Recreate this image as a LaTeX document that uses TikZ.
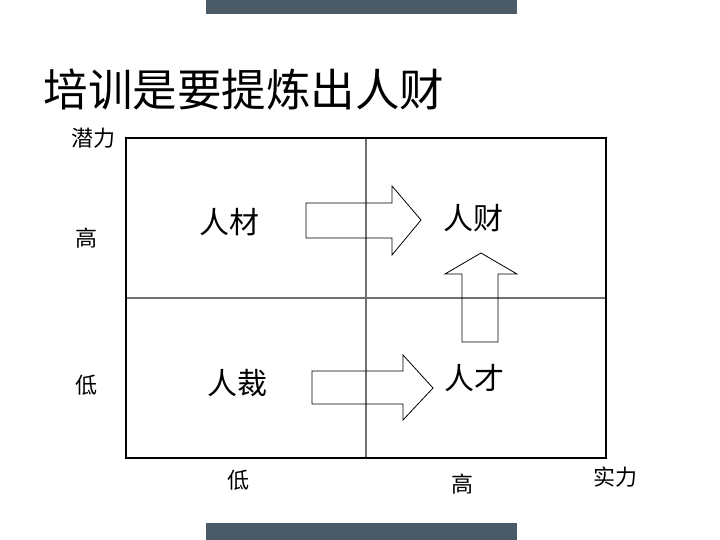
\documentclass[tikz,border=0pt]{standalone}
\usepackage{fontspec}
\newfontfamily\cjk{Noto Sans CJK SC}
\definecolor{barcol}{HTML}{4A5A66}
\definecolor{axiscol}{HTML}{707070}
\tikzset{
  quad/.style={font=\cjk\fontsize{30}{30}\selectfont},
  tick/.style={font=\cjk\fontsize{22}{22}\selectfont},
  blockarrow/.style={draw=black, line width=0.8pt, line join=miter}
}
\begin{document}
\begin{tikzpicture}[x=1pt, y=-1pt]
  \useasboundingbox (0,0) rectangle (720,540);

  % Dark bars at top and bottom
  \fill[barcol] (206,0) rectangle (517,14);
  \fill[barcol] (206,523) rectangle (517,540);

  % Title
  \node[font=\cjk\fontsize{44.5}{44.5}\selectfont, anchor=west] (title) at (40,90) {培训是要提炼出人财};

  % Define corner coordinates of the matrix
  \coordinate (nw) at (126,138);
  \coordinate (se) at (606,458);

  % Dividing lines
  \draw[axiscol, line width=1.5pt] (366,138) -- (366,458);
  \draw[axiscol, line width=1.5pt] (126,298) -- (606,298);

  % Outer frame
  \draw[black, line width=2pt] (nw) rectangle (se);

  % Axis labels
  \node[tick] (yname) at (93,138) {潜力};
  \node[tick] (yhigh) at (86,238) {高};
  \node[tick] (ylow) at (86,385) {低};
  \node[tick] (xlow) at (238,480) {低};
  \node[tick] (xhigh) at (462,484) {高};
  \node[tick] (xname) at (615,477) {实力};

  % Quadrant labels
  \node[quad] (rencai1) at (229,222) {人材};
  \node[quad] (rencai2) at (473,218) {人财};
  \node[quad] (rencai3) at (237,383) {人裁};
  \node[quad] (rencai4) at (474,378) {人才};

  % Block arrows (outline only, lines show through)
  \draw[blockarrow] (306,203) -- (392,203) -- (392,186) -- (421,220)
    -- (392,255) -- (392,238) -- (306,238) -- cycle;
  \draw[blockarrow] (312,371) -- (403,371) -- (403,355) -- (433,388)
    -- (403,420) -- (403,404) -- (312,404) -- cycle;
  \draw[blockarrow] (462,342) -- (462,274) -- (445,274) -- (481,253)
    -- (517,274) -- (498,274) -- (498,342) -- cycle;

\end{tikzpicture}
\end{document}
